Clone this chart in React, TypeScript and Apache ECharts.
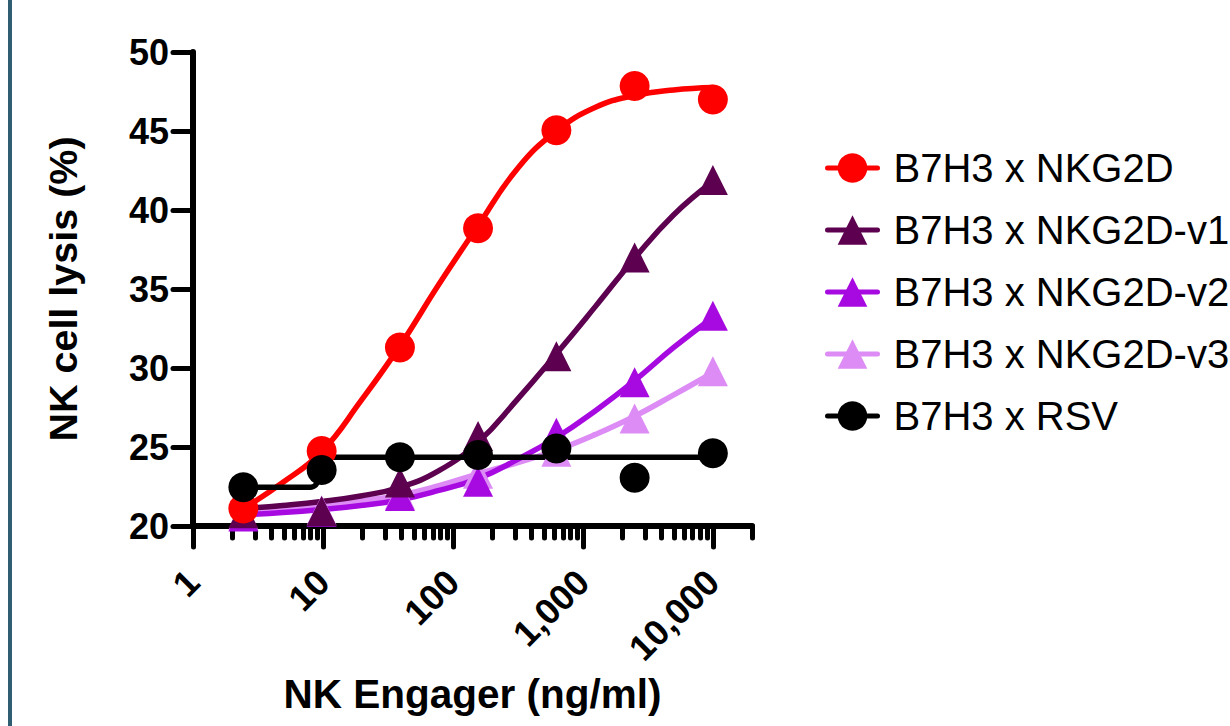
import React, { useEffect, useRef } from 'react';
import * as echarts from 'echarts';

const FONT = '"Liberation Sans", Arial, Helvetica, sans-serif';

const SERIES_NAMES = ['B7H3 x NKG2D', 'B7H3 x NKG2D-v1', 'B7H3 x NKG2D-v2', 'B7H3 x NKG2D-v3', 'B7H3 x RSV'];
const SERIES_COLORS = ['#ff0000', '#5c004f', '#a70ae0', '#dd8cf5', '#000000'];
const SERIES_SYMBOLS = ['circle', 'triangle', 'triangle', 'triangle', 'circle'];

// measured points (x = concentration ng/ml)
const POINT_X = [2.44, 9.77, 39.1, 156, 625, 2500, 10000];
const NKG2D_POINTS = [21.1, 24.75, 31.3, 38.85, 45.05, 47.85, 47.0];
const V1_POINTS = [20.8, 20.95, 22.75, 25.7, 30.75, 37.0, 41.9];
const V2_POINTS = [20.6, 20.9, 21.9, 22.8, 25.9, 29.1, 33.3];
const V3_POINTS = [20.7, 21.0, 22.0, 23.3, 24.7, 26.8, 29.8];
const RSV_POINTS = [22.45, 23.55, 24.35, 24.5, 24.9, 23.05, 24.6];

// fitted curves
const CURVE_X = [2.44, 4.9, 9.77, 19.5, 39.1, 78, 156, 312, 625, 1250, 2500, 5000, 10000];
const NKG2D_CURVE = [21.1, 22.75, 24.7, 27.9, 31.4, 35.3, 39.0, 42.6, 45.0, 46.5, 47.25, 47.6, 47.75];
const V1_CURVE = [21.1, 21.3, 21.55, 21.9, 22.45, 23.5, 25.3, 28.0, 30.9, 33.9, 36.95, 39.7, 41.8];
const V2_CURVE = [20.7, 20.85, 21.05, 21.3, 21.65, 22.25, 23.0, 24.2, 25.6, 27.3, 29.2, 31.3, 33.2];
const V3_CURVE = [20.85, 21.05, 21.3, 21.6, 21.95, 22.55, 23.3, 24.0, 24.8, 25.8, 26.95, 28.3, 29.7];
const RSV_CURVE_X = [2.44, 8.0, 8.8, 9.4, 9.9, 10.6, 11.8, 10000];
const RSV_CURVE = [22.45, 22.45, 22.6, 23.2, 23.9, 24.3, 24.35, 24.35];

const X_MAJOR_TICKS = [1, 10, 100, 1000, 10000];
const X_MINOR_TICKS = [
  2, 3, 4, 5, 6, 7, 8, 9,
  20, 30, 40, 50, 60, 70, 80, 90,
  200, 300, 400, 500, 600, 700, 800, 900,
  2000, 3000, 4000, 5000, 6000, 7000, 8000, 9000,
  20000,
];
const Y_MIN = 20;
const Y_MAX = 50;
const Y_STEP = 5;

const zip = (xs: number[], ys: number[]) => xs.map((x, i) => [x, ys[i]]);

export default function App() {
  const ref = useRef<HTMLDivElement>(null);

  useEffect(() => {
    document.body.style.margin = '0';
    if (!ref.current) return;
    const chart = echarts.init(ref.current, null, { renderer: 'svg' });

    const curves = [
      zip(CURVE_X, NKG2D_CURVE),
      zip(CURVE_X, V1_CURVE),
      zip(CURVE_X, V2_CURVE),
      zip(CURVE_X, V3_CURVE),
      zip(RSV_CURVE_X, RSV_CURVE),
    ];
    const points = [
      zip(POINT_X, NKG2D_POINTS),
      zip(POINT_X, V1_POINTS),
      zip(POINT_X, V2_POINTS),
      zip(POINT_X, V3_POINTS),
      zip(POINT_X, RSV_POINTS),
    ];
    const drawOrder = [3, 2, 1, 0, 4];

    const lineSeries = drawOrder.map((i) => ({
      type: 'line',
      name: SERIES_NAMES[i],
      data: curves[i],
      xAxisIndex: 0,
      yAxisIndex: 0,
      smooth: i === 4 ? 0.25 : 0.45,
      symbol: SERIES_SYMBOLS[i],
      showSymbol: false,
      color: SERIES_COLORS[i],
      lineStyle: { color: SERIES_COLORS[i], width: 5.5, cap: 'round', join: 'round' },
      itemStyle: { color: SERIES_COLORS[i] },
      z: 2,
      silent: true,
    }));
    const scatterSeries = drawOrder.map((i) => ({
      type: 'scatter',
      name: SERIES_NAMES[i],
      data: points[i],
      xAxisIndex: 0,
      yAxisIndex: 0,
      symbol: SERIES_SYMBOLS[i],
      symbolSize: 30,
      itemStyle: { color: SERIES_COLORS[i], opacity: 1 },
      z: 3,
      silent: true,
    }));

    const axisText = { color: '#000', fontFamily: FONT, fontWeight: 'bold' as const };

    chart.setOption({
      animation: false,
      backgroundColor: '#ffffff',
      graphic: [
        { type: 'rect', shape: { x: 8, y: 0, width: 4, height: 726 }, style: { fill: '#2f5d71' }, z: 10 },
      ],
      grid: { left: 193, top: 52, width: 559, height: 474, containLabel: false },
      legend: {
        orient: 'vertical',
        left: 820,
        top: 143,
        itemWidth: 50,
        itemHeight: 37,
        itemGap: 22,
        selectedMode: false,
        data: SERIES_NAMES,
        lineStyle: { width: 5, cap: 'round' },
        textStyle: { fontSize: 40, color: '#000', fontFamily: FONT, padding: [0, 0, 0, 11] },
      },
      xAxis: [
        {
          type: 'log',
          logBase: 10,
          min: 1,
          max: 20000,
          position: 'bottom',
          name: 'NK Engager (ng/ml)',
          nameLocation: 'middle',
          nameGap: 145,
          nameTextStyle: { ...axisText, fontSize: 40.5 },
          axisLine: { show: true, onZero: false, lineStyle: { color: '#000', width: 6, cap: 'round' } },
          axisTick: {
            show: true,
            customValues: X_MAJOR_TICKS,
            length: 21,
            lineStyle: { color: '#000', width: 5, cap: 'round' },
          },
          minorTick: { show: false },
          axisLabel: {
            ...axisText,
            customValues: X_MAJOR_TICKS,
            fontSize: 36,
            rotate: 45,
            margin: 50,
            formatter: (v: number) => Number(v).toLocaleString('en-US'),
          },
          splitLine: { show: false },
        },
        {
          type: 'log',
          logBase: 10,
          min: 1,
          max: 20000,
          position: 'bottom',
          axisLine: { show: false, onZero: false },
          axisTick: {
            show: true,
            customValues: X_MINOR_TICKS,
            length: 12,
            lineStyle: { color: '#000', width: 5, cap: 'round' },
          },
          axisLabel: { show: false },
          splitLine: { show: false },
        },
      ],
      yAxis: {
        type: 'value',
        min: Y_MIN,
        max: Y_MAX,
        interval: Y_STEP,
        name: 'NK cell lysis (%)',
        nameLocation: 'middle',
        nameGap: 110,
        nameTextStyle: { ...axisText, fontSize: 39.5 },
        axisLine: { show: true, lineStyle: { color: '#000', width: 6, cap: 'round' } },
        axisTick: { show: true, length: 20, lineStyle: { color: '#000', width: 5, cap: 'round' } },
        axisLabel: { ...axisText, fontSize: 36, margin: 24 },
        splitLine: { show: false },
      },
      series: [...lineSeries, ...scatterSeries],
    });

    return () => chart.dispose();
  }, []);

  return <div ref={ref} style={{ width: 1230, height: 726 }} />;
}
